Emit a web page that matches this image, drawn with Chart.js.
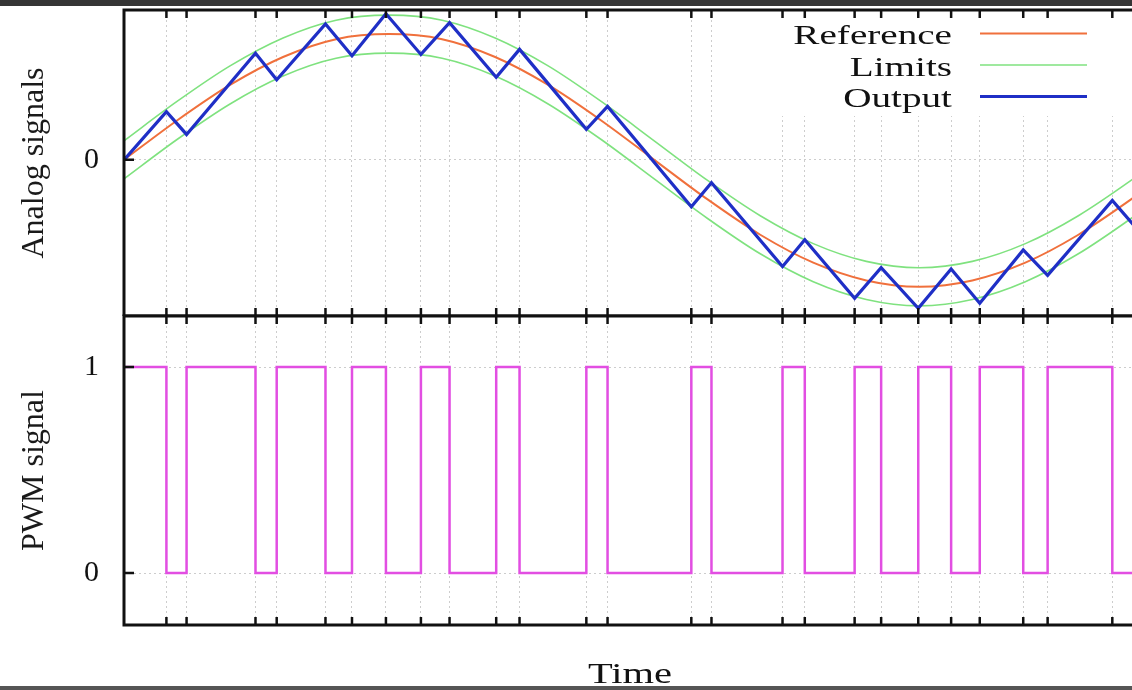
<!DOCTYPE html>
<html>
<head>
<meta charset="utf-8">
<title>PWM modulation</title>
<script src="https://cdn.jsdelivr.net/npm/chart.js@4.4.1/dist/chart.umd.min.js"></script>
<style>
    html, body { margin: 0; padding: 0; background: #fff; overflow: hidden; width: 1132px; height: 690px; }
    .panel { position: absolute; left: 0; width: 1146px; }
    .band { position: absolute; left: 0; width: 1132px; z-index: 5; }
</style>
</head>
<body>
<div class="band" style="top:0;height:6px;background:#353535"></div>
<div class="panel" style="top:0;height:316px"><canvas id="analogChart"></canvas></div>
<div class="panel" style="top:306px;height:384px"><canvas id="pwmChart"></canvas></div>
<div class="band" style="top:686px;height:4px;background:#555"></div>

<script>
// Switching instants (time units, 100 = one period of the reference)
const switchTimes = [4.0, 5.9, 12.4, 14.4, 19.0, 21.5, 24.7, 28.0, 30.7, 35.1, 37.3, 43.6, 45.6,
    53.5, 55.4, 62.1, 64.2, 68.9, 71.4, 74.9, 78.0, 80.7, 84.8, 87.1, 93.2];

// Reference sine and tolerance band
const refTimes = [0, 5, 10, 15, 20, 25, 30, 35, 40, 45, 50, 55, 60, 65, 70, 75, 80, 85, 90, 95, 100];
const refValues = [0, 0.31, 0.59, 0.81, 0.95, 0.99, 0.95, 0.81, 0.59, 0.31, 0, -0.31, -0.59, -0.81, -0.95, -1.0, -0.95, -0.81, -0.59, -0.31, 0];
const upperLimit = [0.15, 0.46, 0.74, 0.96, 1.10, 1.14, 1.10, 0.96, 0.74, 0.46, 0.15, -0.16, -0.44, -0.66, -0.80, -0.85, -0.80, -0.66, -0.44, -0.16, 0.15];
const lowerLimit = [-0.15, 0.16, 0.44, 0.66, 0.80, 0.84, 0.80, 0.66, 0.44, 0.16, -0.15, -0.46, -0.74, -0.96, -1.10, -1.15, -1.10, -0.96, -0.74, -0.46, -0.15];

// Output (integrated PWM) and PWM levels at each switching instant
const outTimes = [0, ...switchTimes, 96];
const outValues = [0, 0.38, 0.20, 0.84, 0.63, 1.07, 0.82, 1.15, 0.83, 1.08, 0.65, 0.87, 0.24, 0.42,
    -0.37, -0.18, -0.84, -0.63, -1.09, -0.85, -1.17, -0.86, -1.13, -0.71, -0.91, -0.32, -0.59];
const pwmTimes = [0, ...switchTimes, 96];
const pwmLevels = [1, 0, 1, 0, 1, 0, 1, 0, 1, 0, 1, 0, 1, 0, 1, 0, 1, 0, 1, 0, 1, 0, 1, 0, 1, 0, 0];

const analogTicks = [0];
const pwmTicks = [0, 1];

const SERIF = 'Liberation Serif';
const GRID = '#cdcdcd';

const toPoints = (xs, ys) => xs.map((x, i) => ({ x, y: ys[i] }));

/**
 * Frame with inward ticks on all four sides (gnuplot style)
 */
const framePlugin = {
    id: 'frame',
    afterDraw(chart, args, opts) {
        const { ctx, chartArea: a, scales } = chart;
        ctx.save();
        ctx.strokeStyle = '#111';
        ctx.lineWidth = 2.5;
        ctx.beginPath();
        switchTimes.forEach(t => {
            const x = scales.x.getPixelForValue(t);
            ctx.moveTo(x, a.top); ctx.lineTo(x, a.top + 8);
            ctx.moveTo(x, a.bottom); ctx.lineTo(x, a.bottom - 8);
        });
        (opts.yTicks || []).forEach(v => {
            const y = scales.y.getPixelForValue(v);
            ctx.moveTo(a.left, y); ctx.lineTo(a.left + 10, y);
            ctx.moveTo(a.right, y); ctx.lineTo(a.right - 10, y);
        });
        ctx.stroke();
        ctx.lineWidth = 3;
        ctx.strokeRect(a.left, a.top, a.width, a.height);
        ctx.restore();
    }
};

// Draw text stretched horizontally like the original raster
function stretchText(ctx, text, x, y, align, size, sx) {
    ctx.save();
    ctx.translate(x, y);
    ctx.scale(sx, 1);
    ctx.font = `${size}px "${SERIF}"`;
    ctx.fillStyle = '#111';
    ctx.textAlign = align;
    ctx.textBaseline = 'alphabetic';
    ctx.fillText(text, 0, 0);
    ctx.restore();
}

/**
 * Key box in the top right corner: text right-aligned, line sample on the right
 */
const keyPlugin = {
    id: 'keyBox',
    beforeDatasetsDraw(chart) {
        const { ctx, chartArea: a } = chart;
        ctx.save();
        ctx.fillStyle = '#fff';
        ctx.fillRect(768, a.top + 2, a.right - 770, 104);
        ctx.restore();
    },
    afterDatasetsDraw(chart) {
        const { ctx } = chart;
        const seen = new Set();
        let row = 0;
        chart.data.datasets.slice().sort((p, q) => p.keyRow - q.keyRow).forEach(ds => {
            if (seen.has(ds.label)) return;
            seen.add(ds.label);
            const base = 44 + row * 31.5;
            stretchText(ctx, ds.label, 952, base, 'right', 27, 1.45);
            ctx.save();
            ctx.strokeStyle = ds.borderColor;
            ctx.lineWidth = ds.borderWidth;
            ctx.beginPath();
            ctx.moveTo(980, base - 10.5);
            ctx.lineTo(1087, base - 10.5);
            ctx.stroke();
            ctx.restore();
            row++;
        });
    }
};

const timeLabelPlugin = {
    id: 'timeLabel',
    afterDraw(chart, args, opts) {
        const a = chart.chartArea;
        stretchText(chart.ctx, opts.text, (a.left + a.right) / 2 - 3, a.bottom + 58, 'center', 30, 1.35);
    }
};

function timeScale() {
    return {
        type: 'linear',
        min: 0,
        max: 96,
        afterBuildTicks: s => { s.ticks = switchTimes.map(v => ({ value: v })); },
        afterFit: s => { s.height = 0; s.paddingLeft = 0; s.paddingRight = 0; },
        ticks: { display: false },
        grid: { color: GRID, lineWidth: 1, drawTicks: false },
        border: { display: false, dash: [2, 3] }
    };
}

function levelScale(min, max, ticks, title) {
    return {
        type: 'linear',
        min,
        max,
        afterBuildTicks: s => { s.ticks = ticks.map(v => ({ value: v })); },
        // fixed axis width, and no extra room for the edge labels
        afterFit: s => { s.width = 124; s.paddingTop = 0; s.paddingBottom = 0; },
        ticks: {
            padding: 25,
            color: '#111',
            callback: v => String(v),
            font: { family: SERIF, size: 30 }
        },
        grid: { color: GRID, lineWidth: 1, drawTicks: false },
        border: { display: false, dash: [2, 3] },
        title: {
            display: true,
            text: title,
            color: '#1a1a1a',
            padding: { top: 15, bottom: 0 },
            font: { family: SERIF, size: 32 }
        }
    };
}

function lineSet(label, xs, ys, color, width, extra) {
    return Object.assign({
        label,
        data: toPoints(xs, ys),
        borderColor: color,
        borderWidth: width,
        pointRadius: 0,
        fill: false
    }, extra);
}

function renderAnalog() {
    const ctx = document.getElementById('analogChart').getContext('2d');
    return new Chart(ctx, {
        type: 'line',
        data: {
            datasets: [
                lineSet('Output', outTimes, outValues, '#1f2fc6', 3.2, { order: 0, keyRow: 2, tension: 0 }),
                lineSet('Reference', refTimes, refValues, '#f0703c', 2, { order: 1, keyRow: 0, cubicInterpolationMode: 'monotone' }),
                lineSet('Limits', refTimes, upperLimit, '#7fe27f', 1.6, { order: 2, keyRow: 1, cubicInterpolationMode: 'monotone' }),
                lineSet('Limits', refTimes, lowerLimit, '#7fe27f', 1.6, { order: 2, keyRow: 1, cubicInterpolationMode: 'monotone' })
            ]
        },
        options: {
            responsive: true,
            maintainAspectRatio: false,
            animation: false,
            layout: { padding: { top: 10, right: 4, bottom: 0, left: 0 } },
            scales: {
                x: timeScale(),
                y: levelScale(-1.23, 1.18, analogTicks, 'Analog signals')
            },
            plugins: {
                legend: { display: false },
                tooltip: { enabled: false },
                frame: { yTicks: analogTicks }
            }
        },
        plugins: [keyPlugin, framePlugin]
    });
}

function renderPwm() {
    const ctx = document.getElementById('pwmChart').getContext('2d');
    return new Chart(ctx, {
        type: 'line',
        data: {
            datasets: [
                lineSet('PWM', pwmTimes, pwmLevels, '#e24ee2', 2.5, { stepped: true })
            ]
        },
        options: {
            responsive: true,
            maintainAspectRatio: false,
            animation: false,
            layout: { padding: { top: 10, right: 4, bottom: 65, left: 0 } },
            scales: {
                x: timeScale(),
                y: levelScale(-0.252, 1.248, pwmTicks, 'PWM signal')
            },
            plugins: {
                legend: { display: false },
                tooltip: { enabled: false },
                frame: { yTicks: pwmTicks },
                timeLabel: { text: 'Time' }
            }
        },
        plugins: [framePlugin, timeLabelPlugin]
    });
}

document.addEventListener('DOMContentLoaded', () => {
    renderAnalog();
    renderPwm();
});
</script>
</body>
</html>
